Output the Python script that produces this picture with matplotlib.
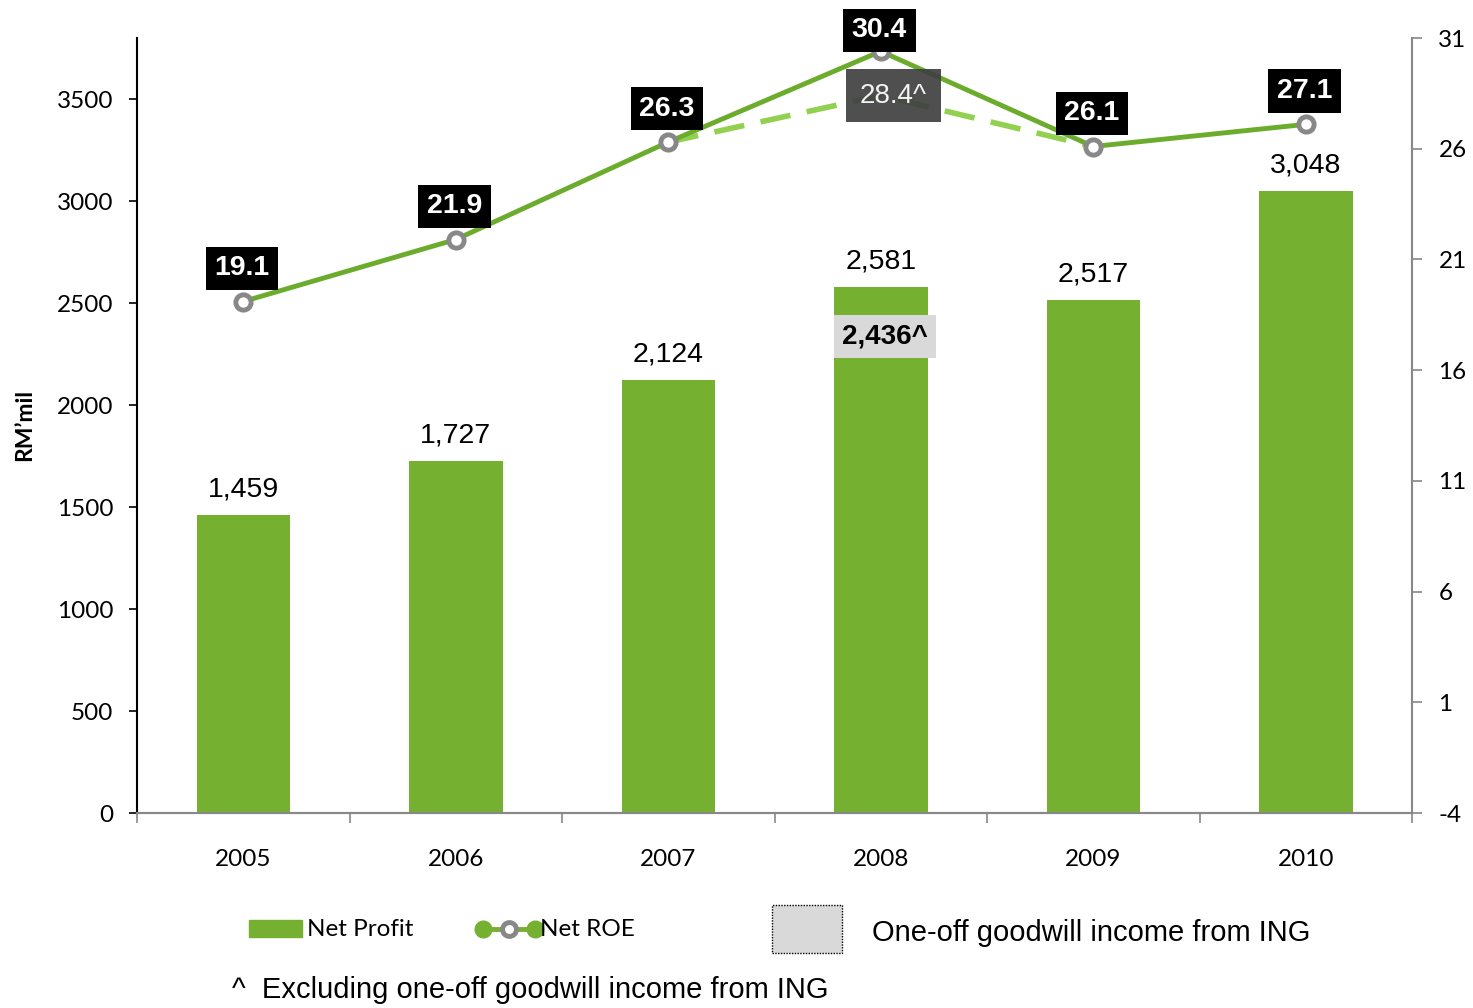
import matplotlib.pyplot as plt
import numpy as np
from matplotlib.patches import Rectangle
from matplotlib.lines import Line2D

plt.rcParams['font.family'] = ['Lato', 'DejaVu Sans']
plt.rcParams['axes.unicode_minus'] = False

years = ['2005', '2006', '2007', '2008', '2009', '2010']
net_profit = [1459, 1727, 2124, 2581, 2517, 3048]
net_roe = [19.1, 21.9, 26.3, 30.4, 26.1, 27.1]
# ROE for 2007-2009 with the one-off ING goodwill income taken out
adj_years = ['2007', '2008', '2009']
adj_roe = [26.3, 28.4, 26.1]
adj_profit_2008 = 2436

BAR = '#76B031'
LINE = '#6CAC2D'
LIGHT = '#92D050'
ARIAL = 'Liberation Sans'

W, H = 1473, 1008
fig = plt.figure(figsize=(W / 100, H / 100), dpi=100)
ax = fig.add_axes([137 / W, 195 / H, 1275 / W, 775 / H])
ax2 = ax.twinx()

x = np.arange(len(years))
ax.bar(x, net_profit, width=0.44, color=BAR, zorder=2)
for xi, v in zip(x, net_profit):
    ax.annotate(f'{v:,}', (xi, v), xytext=(0, 9), textcoords='offset points',
                ha='center', va='bottom', fontsize=20.5, family=ARIAL)

# adjusted 2008 profit label sitting on the bar
i08 = years.index('2008')
ax.text(x[i08] + 0.02, adj_profit_2008 - 100, f'{adj_profit_2008:,}^', ha='center', va='center',
        fontsize=20, fontweight='bold', family=ARIAL, zorder=4,
        bbox=dict(boxstyle='square,pad=0.3', fc='#D9D9D9', ec='none'))

ax.set_xlim(-0.5, len(years) - 0.5)
ax.set_ylim(0, 3800)
ax.set_yticks(np.arange(0, 3501, 500))
ax.set_xticks(x)
ax.set_xticklabels(years)
ax.set_xticks(np.arange(-0.5, len(years), 1), minor=True)
ax.tick_params(axis='x', which='major', length=0, pad=26, labelsize=17.5)
ax.tick_params(axis='x', which='minor', length=7, color='#888888', width=1.2)
ax.tick_params(axis='y', length=6, width=1.2, pad=11, labelsize=17.5)

ax2.set_ylim(-4, 31)
ax2.set_yticks(np.arange(-4, 32, 5))
ax2.tick_params(axis='y', length=7, width=1.2, color='#888888', pad=12, labelsize=17.5)

for a in (ax, ax2):
    a.spines['top'].set_visible(False)
    a.spines['bottom'].set_color('#888888')
    a.spines['bottom'].set_linewidth(1.5)
ax.spines['right'].set_visible(False)
ax2.spines['left'].set_visible(False)
ax.spines['left'].set_linewidth(1.5)
ax2.spines['right'].set_color('#888888')
ax2.spines['right'].set_linewidth(1.5)

# adjusted ROE (dashed) and reported ROE (solid)
ax_idx = [years.index(y) for y in adj_years]
ax2.plot(ax_idx, adj_roe, color=LIGHT, lw=4, ls=(0, (5.5, 3)), zorder=2,
         solid_capstyle='butt')
ax2.plot(x, net_roe, color=LINE, lw=3.5, zorder=3, marker='o', markersize=11,
         markerfacecolor='white', markeredgecolor='#888888', markeredgewidth=3.5)

for xi, v in zip(x, net_roe):
    off = 15 if v == max(net_roe) else 24
    ax2.annotate(f'{v}', (xi, v), xytext=(-1, off), textcoords='offset points',
                 ha='center', va='center', fontsize=20.5, fontweight='bold',
                 family=ARIAL, color='white', zorder=5, annotation_clip=False,
                 bbox=dict(boxstyle='square,pad=0.3', fc='black', ec='none'))

i_mid = adj_years.index('2008')
ax2.text(ax_idx[i_mid] + 0.06, adj_roe[i_mid], f'{adj_roe[i_mid]}^', ha='center', va='center',
         fontsize=20, family=ARIAL, color='#F2F2F2', zorder=4,
         bbox=dict(boxstyle='square,pad=0.5', fc='#404040', ec='none', alpha=0.92))

fig.text(25 / W, 1 - 425 / H, 'RM\u2019mil', rotation=90, ha='center', va='center',
         fontsize=16.5, fontweight='bold')


def fp(px, py):
    return px / W, 1 - py / H


# legend
fig.add_artist(Rectangle(fp(249, 937), 53 / W, 17 / H, color=BAR, transform=fig.transFigure))
fig.text(*fp(307, 929), 'Net Profit', va='center', fontsize=17.5)
lx0, ly0 = fp(483, 929)
lx1, _ = fp(535, 929)
fig.add_artist(Line2D([lx0, lx1], [ly0, ly0], color=BAR, lw=3.5, transform=fig.transFigure))
fig.add_artist(Line2D([lx0, lx1], [ly0, ly0], ls='none', marker='o', markersize=12,
                      color=BAR, transform=fig.transFigure))
fig.add_artist(Line2D([(lx0 + lx1) / 2], [ly0], ls='none', marker='o', markersize=10,
                      markerfacecolor='white', markeredgecolor='#888888', markeredgewidth=3.5,
                      transform=fig.transFigure))
fig.text(*fp(540, 929), 'Net ROE', va='center', fontsize=17.5)

fig.add_artist(Rectangle(fp(772, 953), 70 / W, 48 / H, fc='#D9D9D9', ec='black', lw=1,
                         ls=(0, (1, 1)), transform=fig.transFigure))
fig.text(*fp(872, 933), 'One-off goodwill income from ING', va='center', fontsize=21,
         family=ARIAL)
fig.text(*fp(232, 990), '^  Excluding one-off goodwill income from ING', va='center',
         fontsize=21, family=ARIAL)

fig.savefig('out.png', dpi=100)
